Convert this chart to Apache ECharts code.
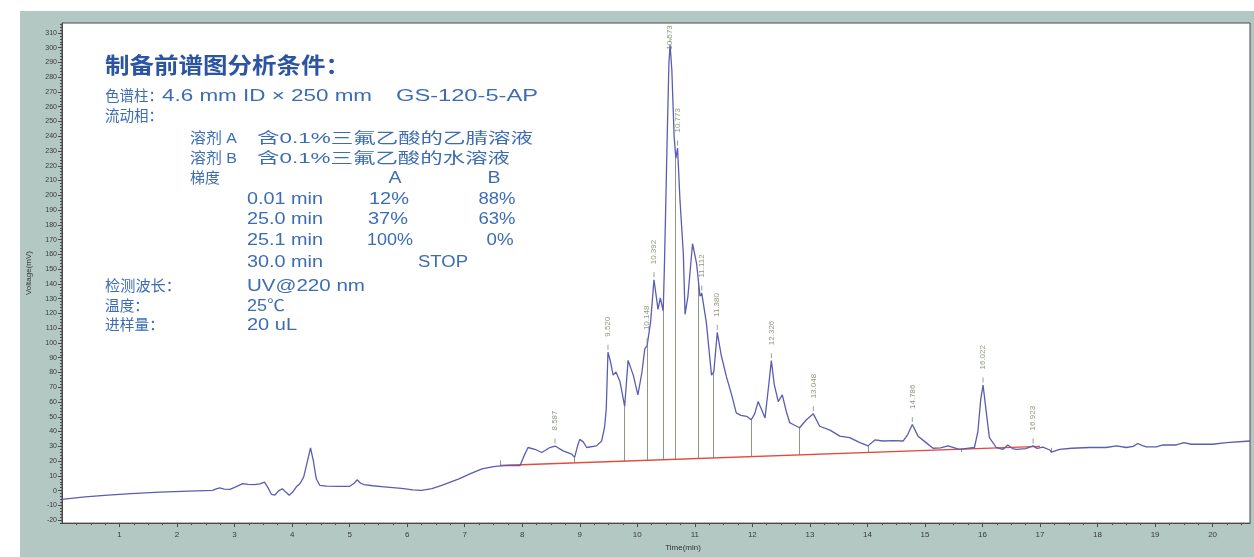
<!DOCTYPE html>
<html><head><meta charset="utf-8">
<script src="https://cdn.jsdelivr.net/npm/echarts@6/dist/echarts.min.js"></script>
<style>
html,body{margin:0;padding:0;background:#fff;}
#panel{position:absolute;left:20px;top:11px;width:1234px;height:546px;background:#b3c8c3;}
#c{position:absolute;left:0;top:0;width:1254px;height:557px;}
</style>
</head><body><div id="panel"></div><div id="c"></div>
<script>
// ---- data ----
const traceTime = [0,0.4,0.8,1.2,1.7,2.2,2.62,2.68,2.74,2.82,2.92,3.02,3.14,3.24,3.34,3.44,3.52,3.58,3.64,3.7,3.77,3.83,3.89,3.95,4.01,4.07,4.14,4.2,4.26,4.32,4.37,4.42,4.48,4.6,4.8,5.0,5.08,5.13,5.19,5.25,5.4,5.6,5.9,6.1,6.25,6.43,6.6,6.9,7.1,7.3,7.5,7.67,7.8,7.96,8.02,8.1,8.22,8.34,8.48,8.57,8.71,8.86,8.91,8.96,9.0,9.06,9.12,9.29,9.38,9.43,9.46,9.49,9.53,9.58,9.63,9.70,9.78,9.84,9.93,10.01,10.08,10.13,10.17,10.23,10.29,10.36,10.40,10.45,10.47,10.49,10.52,10.55,10.57,10.60,10.64,10.67,10.70,10.74,10.80,10.83,10.88,10.96,11.03,11.09,11.12,11.2,11.29,11.33,11.39,11.46,11.55,11.64,11.72,11.80,11.90,11.98,12.04,12.10,12.16,12.22,12.28,12.33,12.38,12.45,12.52,12.59,12.65,12.71,12.82,12.94,13.06,13.17,13.35,13.52,13.69,13.87,14.01,14.13,14.27,14.45,14.62,14.7,14.78,14.88,15.02,15.14,15.27,15.4,15.6,15.86,15.92,15.97,16.01,16.06,16.12,16.24,16.36,16.44,16.52,16.59,16.75,16.88,16.95,17.05,17.17,17.2,17.34,17.55,17.86,18.15,18.33,18.5,18.62,18.7,18.78,18.85,19.02,19.14,19.37,19.5,19.63,20.0,20.24,20.65];
const traceVoltage = [-6,-4.2,-3,-2,-1,-0.3,0.2,1.2,1.8,1,0.9,2.5,4.7,4.2,4,4.6,5.8,2,-2.5,-3,0,1.3,-1,-3.1,-1,2.4,5,9.1,19,29,20,8,3.6,3,2.9,2.9,5,7.3,5,4,3.3,2.6,1.5,0.5,0.2,1.3,3.5,8,11.5,14.7,16.3,16.9,17,16.9,22.5,29.2,28,25.8,29.2,30.2,26.9,24.7,22.5,30,34.7,33,29.2,30.3,33.6,42.6,55,93.7,88,78.2,80.4,73.7,57,88.2,78.2,64.8,80,96,98.2,113.8,142.8,122.7,130.5,121.6,150,185,240,290,302,285,240,225,232,198,160.5,119.4,131.6,167.2,153.9,131.6,133.8,113.8,78.2,80.4,107.1,91.5,77,64.8,52.6,51,50.3,48,52,60.3,55,49.2,70,88,72,60.3,64.8,53.6,46,44.8,42.6,48,52,43.6,41,36.9,35.9,32.5,30.3,34.3,33.6,33.8,33.6,38,44.8,36.9,32.5,28.7,29,30.3,28,29.2,40,62,71.5,55,35.9,29.2,28,30.9,28.5,28,28.5,30.3,28.6,29.5,27.5,26,28,28.7,29.2,29.2,30.3,29.2,30,31.9,30.5,29.6,29.6,30.9,30.9,32.5,31.4,31.4,32.5,33.6];

const baselineTime = [7.62, 17.0];
const baselineVoltage = [17.0, 29.9];

const dropTime   = [7.62, 8.91, 9.78, 10.17, 10.45, 10.66, 11.06, 11.32, 11.98, 12.82, 14.01, 15.63, 17.2];
const dropTop    = [20.5, 22.5, 57, 98.2, 121.6, 225, 140, 80, 48, 42.6, 30.3, 28.3, 29];
const dropBottom = [17.0, 18.8, 20.0, 20.5, 20.9, 21.2, 21.7, 22.0, 23.0, 24.2, 25.8, 26.0, 26.0];

const peakNames   = ['8.587','9.520','10.148','10.392','10.573','10.773','11.112','11.380','12.326','13.048','14.786','16.022','16.923'];
const peakTime    = [8.57, 9.49, 10.17, 10.29, 10.57, 10.70, 11.12, 11.39, 12.33, 13.06, 14.78, 16.01, 16.88];
const peakVoltage = [30.2, 93.7, 98.2, 142.8, 302, 232, 133.8, 107.1, 88, 52, 44.8, 71.5, 30.3];

const xTickLabels = [1,2,3,4,5,6,7,8,9,10,11,12,13,14,15,16,17,18,19,20];
const yTickLabels = [-20,-10,0,10,20,30,40,50,60,70,80,90,100,110,120,130,140,150,160,170,180,190,200,210,220,230,240,250,260,270,280,290,300,310];

// ---- chart ----
const X_MIN = 0, X_MAX = 20.65, Y_MIN = -22, Y_MAX = 316.7;
const xMinor = []; for (let v = 0.25; v < X_MAX; v += 0.25) xMinor.push(+v.toFixed(2));
const yMinor = []; for (let v = -22; v <= 316; v += 2) yMinor.push(v);

const FONT = "'Liberation Sans', 'Noto Sans CJK SC', sans-serif";
const TXT = '#3c6db4';

const chart = echarts.init(document.getElementById('c'), null, {renderer: 'canvas'});

// [text, x, y, align, targetWidth, fontSize, weight, colour]
const textRows = [
  ['制备前谱图分析条件：', 105, 67, 'left', 245, 22, 'bold', '#2b54a2'],
  ['色谱柱：', 105, 97, 'left', 58, 15],
  ['4.6 mm ID × 250 mm', 162, 97, 'left', 210, 16],
  ['GS-120-5-AP', 396, 97, 'left', 142, 16],
  ['流动相：', 105, 117, 'left', 58, 15],
  ['溶剂 A', 190, 139, 'left', 47, 15],
  ['含0.1%三氟乙酸的乙腈溶液', 257, 139, 'left', 276, 15],
  ['溶剂 B', 190, 159, 'left', 47, 15],
  ['含0.1%三氟乙酸的水溶液', 257, 159, 'left', 253, 15],
  ['梯度', 190, 179, 'left', 30, 15],
  ['A', 395, 179, 'center', 13, 16],
  ['B', 494, 179, 'center', 13, 16],
  ['0.01 min', 247, 200, 'left', 76, 16], ['12%', 389, 200, 'center', 40, 16], ['88%', 497, 200, 'center', 37, 16],
  ['25.0 min', 247, 220, 'left', 76, 16], ['37%', 388, 220, 'center', 40, 16], ['63%', 497, 220, 'center', 37, 16],
  ['25.1 min', 247, 241, 'left', 76, 16], ['100%', 390, 241, 'center', 46, 16], ['0%', 500, 241, 'center', 27, 16],
  ['30.0 min', 247, 263, 'left', 76, 16], ['STOP', 443, 263, 'center', 50, 16],
  ['检测波长：', 105, 287, 'left', 76, 15], ['UV@220 nm', 247, 287, 'left', 118, 16],
  ['温度：', 105, 307, 'left', 44, 15], ['25℃', 247, 307, 'left', 38, 16],
  ['进样量：', 105, 326, 'left', 59, 15], ['20 uL', 247, 326, 'left', 50, 16]
];
const measureCtx = document.createElement('canvas').getContext('2d');
const graphics = textRows.map(r => {
  const font = (r[6] || 'normal') + ' ' + (r[5] || 15) + 'px ' + FONT;
  measureCtx.font = font;
  const natural = measureCtx.measureText(r[0]).width;
  const sx = r[4] ? r[4] / natural : 1;
  return {
    type: 'text', x: r[1], y: r[2], z: 100, scaleX: sx, scaleY: 1,
    style: { text: r[0], fill: r[7] || TXT, font: font, align: r[3] || 'left', verticalAlign: 'middle' }
  };
});

const peakData = peakNames.map((n, i) => {
  const item = { name: n, value: [peakTime[i], peakVoltage[i]] };
  if (peakVoltage[i] > 280) {
    item.label = { align: 'right', distance: 12 };
  }
  return item;
});

chart.setOption({
  animation: false,
  backgroundColor: 'transparent',
  grid: { left: 62, right: 4, top: 23, bottom: 27, show: true, backgroundColor: '#ffffff', borderColor: '#4a4a4a', borderWidth: 1 },
  xAxis: [
    { type: 'value', min: X_MIN, max: X_MAX,
      name: 'Time(min)', nameLocation: 'middle', nameGap: 16,
      nameTextStyle: { fontSize: 8, color: '#333', fontFamily: FONT, padding: [0, 0, 0, 54] },
      axisLine: { show: true, onZero: false, lineStyle: { color: '#4a4a4a', width: 1 } },
      axisTick: { show: true, customValues: xTickLabels, length: 4, lineStyle: { color: '#4a4a4a' } },
      axisLabel: { customValues: xTickLabels, fontSize: 8, color: '#3a3a3a', margin: 8, fontFamily: FONT },
      splitLine: { show: false } },
    { type: 'value', min: X_MIN, max: X_MAX, gridIndex: 0, position: 'bottom',
      axisLine: { show: false, onZero: false }, axisLabel: { show: false }, splitLine: { show: false },
      axisTick: { show: true, customValues: xMinor, length: 2, lineStyle: { color: '#4a4a4a' } } }
  ],
  yAxis: [
    { type: 'value', min: Y_MIN, max: Y_MAX,
      name: 'Voltage(mV)', nameLocation: 'middle', nameGap: 29,
      nameTextStyle: { fontSize: 8, color: '#333', fontFamily: FONT },
      axisLine: { show: true, onZero: false, lineStyle: { color: '#4a4a4a', width: 1 } },
      axisTick: { show: true, customValues: yTickLabels, length: 4, lineStyle: { color: '#4a4a4a' } },
      axisLabel: { customValues: yTickLabels, fontSize: 7, color: '#3a3a3a', margin: 5, fontFamily: FONT },
      splitLine: { show: false } },
    { type: 'value', min: Y_MIN, max: Y_MAX, gridIndex: 0, position: 'left',
      axisLine: { show: false, onZero: false }, axisLabel: { show: false }, splitLine: { show: false },
      axisTick: { show: true, customValues: yMinor, length: 2, lineStyle: { color: '#4a4a4a' } } }
  ],
  graphic: graphics,
  series: [
    { type: 'lines', coordinateSystem: 'cartesian2d', xAxisIndex: 0, yAxisIndex: 0, z: 2,
      lineStyle: { color: '#8d9984', width: 1, opacity: 1 },
      data: dropTime.map((t, i) => ({ coords: [[t, dropBottom[i]], [t, dropTop[i]]] })) },
    { type: 'line', xAxisIndex: 0, yAxisIndex: 0, z: 3, symbol: 'none',
      lineStyle: { color: '#e5483d', width: 1.3 },
      data: baselineTime.map((t, i) => [t, baselineVoltage[i]]) },
    { type: 'line', xAxisIndex: 0, yAxisIndex: 0, z: 4, symbol: 'none',
      lineStyle: { color: '#5a5db0', width: 1.3 },
      data: traceTime.map((t, i) => [t, traceVoltage[i]]) },
    { type: 'scatter', xAxisIndex: 0, yAxisIndex: 0, z: 5,
      symbol: 'rect', symbolSize: [1, 5], symbolOffset: [0, -5],
      itemStyle: { color: '#7f8c73' },
      label: { show: true, formatter: p => p.name, position: 'top', distance: 8, rotate: 90,
        align: 'left', verticalAlign: 'middle', fontSize: 8, color: '#6f7f62', fontFamily: FONT },
      data: peakData }
  ]
});
</script>
</body></html>
